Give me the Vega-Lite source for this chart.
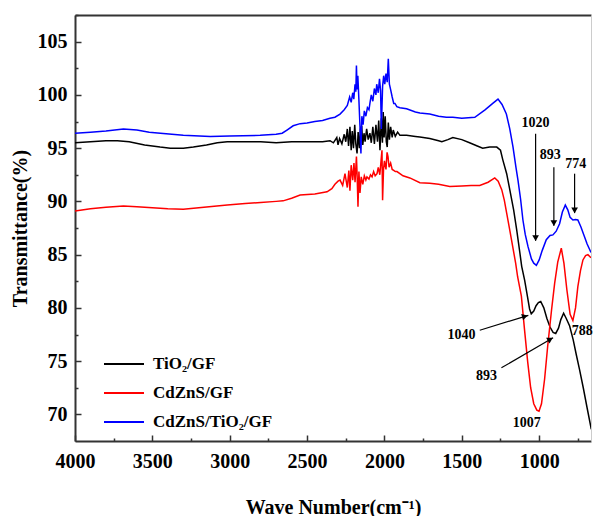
{
  "$schema": "https://vega.github.io/schema/vega-lite/v6.json",
  "width": 516,
  "height": 426,
  "autosize": "none",
  "padding": {"left": 75, "top": 15, "right": 2, "bottom": 75},
  "background": "white",
  "config": {
    "view": {"stroke": null},
    "axis": {
      "grid": false,
      "labelFont": "Liberation Serif",
      "labelFontWeight": "bold",
      "labelFontSize": 20,
      "labelColor": "#000",
      "titleFont": "Liberation Serif",
      "titleFontWeight": "bold",
      "titleFontSize": 20,
      "titleColor": "#000",
      "domainColor": "#333",
      "domainWidth": 2,
      "tickColor": "#333",
      "tickWidth": 1.5
    },
    "legend": {
      "labelFont": "Liberation Serif",
      "labelFontWeight": "bold",
      "labelFontSize": 17,
      "labelColor": "#000"
    }
  },
  "datasets": {
    "spectra": [
      {"s":"TiO₂/GF","x":4000,"y":95.5},{"s":"TiO₂/GF","x":3900,"y":95.6},{"s":"TiO₂/GF","x":3800,"y":95.7},{"s":"TiO₂/GF","x":3726,"y":95.7},{"s":"TiO₂/GF","x":3650,"y":95.6},{"s":"TiO₂/GF","x":3550,"y":95.3},{"s":"TiO₂/GF","x":3450,"y":95.1},{"s":"TiO₂/GF","x":3384,"y":95.0},{"s":"TiO₂/GF","x":3300,"y":95.0},{"s":"TiO₂/GF","x":3235,"y":95.1},{"s":"TiO₂/GF","x":3150,"y":95.3},{"s":"TiO₂/GF","x":3080,"y":95.5},{"s":"TiO₂/GF","x":3016,"y":95.6},{"s":"TiO₂/GF","x":2900,"y":95.6},{"s":"TiO₂/GF","x":2800,"y":95.6},{"s":"TiO₂/GF","x":2700,"y":95.5},{"s":"TiO₂/GF","x":2600,"y":95.6},{"s":"TiO₂/GF","x":2500,"y":95.6},{"s":"TiO₂/GF","x":2450,"y":95.6},{"s":"TiO₂/GF","x":2400,"y":95.6},{"s":"TiO₂/GF","x":2352,"y":95.7},{"s":"TiO₂/GF","x":2330,"y":95.5},{"s":"TiO₂/GF","x":2308,"y":96.0},{"s":"TiO₂/GF","x":2300,"y":95.3},{"s":"TiO₂/GF","x":2290,"y":95.9},{"s":"TiO₂/GF","x":2275,"y":95.4},{"s":"TiO₂/GF","x":2260,"y":96.3},{"s":"TiO₂/GF","x":2250,"y":95.6},{"s":"TiO₂/GF","x":2240,"y":96.8},{"s":"TiO₂/GF","x":2232,"y":95.2},{"s":"TiO₂/GF","x":2223,"y":97.0},{"s":"TiO₂/GF","x":2215,"y":94.8},{"s":"TiO₂/GF","x":2208,"y":96.6},{"s":"TiO₂/GF","x":2200,"y":95.0},{"s":"TiO₂/GF","x":2192,"y":97.2},{"s":"TiO₂/GF","x":2185,"y":95.4},{"s":"TiO₂/GF","x":2177,"y":94.5},{"s":"TiO₂/GF","x":2170,"y":96.5},{"s":"TiO₂/GF","x":2162,"y":95.0},{"s":"TiO₂/GF","x":2155,"y":96.8},{"s":"TiO₂/GF","x":2147,"y":97.1},{"s":"TiO₂/GF","x":2140,"y":95.3},{"s":"TiO₂/GF","x":2132,"y":96.4},{"s":"TiO₂/GF","x":2125,"y":95.6},{"s":"TiO₂/GF","x":2115,"y":96.8},{"s":"TiO₂/GF","x":2105,"y":95.8},{"s":"TiO₂/GF","x":2094,"y":96.4},{"s":"TiO₂/GF","x":2085,"y":95.5},{"s":"TiO₂/GF","x":2075,"y":97.0},{"s":"TiO₂/GF","x":2065,"y":95.4},{"s":"TiO₂/GF","x":2055,"y":97.2},{"s":"TiO₂/GF","x":2045,"y":95.6},{"s":"TiO₂/GF","x":2037,"y":97.6},{"s":"TiO₂/GF","x":2029,"y":94.8},{"s":"TiO₂/GF","x":2020,"y":97.8},{"s":"TiO₂/GF","x":2013,"y":95.5},{"s":"TiO₂/GF","x":2008,"y":98.4},{"s":"TiO₂/GF","x":2002,"y":96.0},{"s":"TiO₂/GF","x":1995,"y":98.0},{"s":"TiO₂/GF","x":1988,"y":95.6},{"s":"TiO₂/GF","x":1982,"y":95.1},{"s":"TiO₂/GF","x":1975,"y":97.4},{"s":"TiO₂/GF","x":1968,"y":95.8},{"s":"TiO₂/GF","x":1960,"y":97.0},{"s":"TiO₂/GF","x":1950,"y":96.0},{"s":"TiO₂/GF","x":1943,"y":96.7},{"s":"TiO₂/GF","x":1930,"y":96.1},{"s":"TiO₂/GF","x":1915,"y":96.5},{"s":"TiO₂/GF","x":1900,"y":96.2},{"s":"TiO₂/GF","x":1857,"y":96.2},{"s":"TiO₂/GF","x":1800,"y":96.1},{"s":"TiO₂/GF","x":1771,"y":96.05},{"s":"TiO₂/GF","x":1707,"y":95.9},{"s":"TiO₂/GF","x":1650,"y":95.7},{"s":"TiO₂/GF","x":1629,"y":95.6},{"s":"TiO₂/GF","x":1590,"y":95.8},{"s":"TiO₂/GF","x":1558,"y":96.0},{"s":"TiO₂/GF","x":1500,"y":95.8},{"s":"TiO₂/GF","x":1450,"y":95.5},{"s":"TiO₂/GF","x":1400,"y":95.2},{"s":"TiO₂/GF","x":1365,"y":95.0},{"s":"TiO₂/GF","x":1320,"y":95.1},{"s":"TiO₂/GF","x":1274,"y":95.1},{"s":"TiO₂/GF","x":1250,"y":94.8},{"s":"TiO₂/GF","x":1235,"y":93.9},{"s":"TiO₂/GF","x":1210,"y":92.6},{"s":"TiO₂/GF","x":1190,"y":91.1},{"s":"TiO₂/GF","x":1165,"y":89.2},{"s":"TiO₂/GF","x":1145,"y":87.3},{"s":"TiO₂/GF","x":1125,"y":85.2},{"s":"TiO₂/GF","x":1113,"y":83.9},{"s":"TiO₂/GF","x":1094,"y":82.6},{"s":"TiO₂/GF","x":1075,"y":81.0},{"s":"TiO₂/GF","x":1062,"y":79.9},{"s":"TiO₂/GF","x":1051,"y":79.45},{"s":"TiO₂/GF","x":1035,"y":79.7},{"s":"TiO₂/GF","x":1020,"y":80.2},{"s":"TiO₂/GF","x":1005,"y":80.5},{"s":"TiO₂/GF","x":990,"y":80.6},{"s":"TiO₂/GF","x":970,"y":80.0},{"s":"TiO₂/GF","x":950,"y":79.0},{"s":"TiO₂/GF","x":930,"y":78.2},{"s":"TiO₂/GF","x":910,"y":77.7},{"s":"TiO₂/GF","x":893,"y":77.6},{"s":"TiO₂/GF","x":875,"y":78.1},{"s":"TiO₂/GF","x":860,"y":78.9},{"s":"TiO₂/GF","x":842,"y":79.5},{"s":"TiO₂/GF","x":825,"y":79.0},{"s":"TiO₂/GF","x":803,"y":78.3},{"s":"TiO₂/GF","x":780,"y":77.0},{"s":"TiO₂/GF","x":760,"y":75.6},{"s":"TiO₂/GF","x":739,"y":74.2},{"s":"TiO₂/GF","x":715,"y":72.5},{"s":"TiO₂/GF","x":690,"y":70.6},{"s":"TiO₂/GF","x":663,"y":68.6},

      {"s":"CdZnS/GF","x":4000,"y":89.1},{"s":"CdZnS/GF","x":3900,"y":89.3},{"s":"CdZnS/GF","x":3800,"y":89.45},{"s":"CdZnS/GF","x":3687,"y":89.56},{"s":"CdZnS/GF","x":3600,"y":89.5},{"s":"CdZnS/GF","x":3500,"y":89.4},{"s":"CdZnS/GF","x":3400,"y":89.3},{"s":"CdZnS/GF","x":3300,"y":89.25},{"s":"CdZnS/GF","x":3200,"y":89.4},{"s":"CdZnS/GF","x":3100,"y":89.55},{"s":"CdZnS/GF","x":3016,"y":89.65},{"s":"CdZnS/GF","x":2900,"y":89.8},{"s":"CdZnS/GF","x":2800,"y":89.9},{"s":"CdZnS/GF","x":2700,"y":90.0},{"s":"CdZnS/GF","x":2655,"y":90.05},{"s":"CdZnS/GF","x":2600,"y":90.3},{"s":"CdZnS/GF","x":2545,"y":90.6},{"s":"CdZnS/GF","x":2450,"y":90.7},{"s":"CdZnS/GF","x":2371,"y":90.9},{"s":"CdZnS/GF","x":2340,"y":91.2},{"s":"CdZnS/GF","x":2320,"y":91.6},{"s":"CdZnS/GF","x":2300,"y":91.9},{"s":"CdZnS/GF","x":2287,"y":92.0},{"s":"CdZnS/GF","x":2270,"y":91.5},{"s":"CdZnS/GF","x":2255,"y":92.6},{"s":"CdZnS/GF","x":2240,"y":91.3},{"s":"CdZnS/GF","x":2230,"y":92.9},{"s":"CdZnS/GF","x":2223,"y":91.0},{"s":"CdZnS/GF","x":2215,"y":93.4},{"s":"CdZnS/GF","x":2205,"y":92.0},{"s":"CdZnS/GF","x":2197,"y":93.6},{"s":"CdZnS/GF","x":2190,"y":91.8},{"s":"CdZnS/GF","x":2181,"y":94.2},{"s":"CdZnS/GF","x":2176,"y":92.2},{"s":"CdZnS/GF","x":2171,"y":89.5},{"s":"CdZnS/GF","x":2165,"y":92.8},{"s":"CdZnS/GF","x":2158,"y":90.8},{"s":"CdZnS/GF","x":2150,"y":92.3},{"s":"CdZnS/GF","x":2140,"y":91.6},{"s":"CdZnS/GF","x":2130,"y":92.4},{"s":"CdZnS/GF","x":2120,"y":92.0},{"s":"CdZnS/GF","x":2113,"y":92.3},{"s":"CdZnS/GF","x":2100,"y":92.1},{"s":"CdZnS/GF","x":2090,"y":92.5},{"s":"CdZnS/GF","x":2080,"y":92.3},{"s":"CdZnS/GF","x":2070,"y":92.8},{"s":"CdZnS/GF","x":2060,"y":92.4},{"s":"CdZnS/GF","x":2048,"y":92.6},{"s":"CdZnS/GF","x":2040,"y":93.2},{"s":"CdZnS/GF","x":2030,"y":92.5},{"s":"CdZnS/GF","x":2022,"y":93.8},{"s":"CdZnS/GF","x":2016,"y":94.8},{"s":"CdZnS/GF","x":2012,"y":90.1},{"s":"CdZnS/GF","x":2006,"y":93.0},{"s":"CdZnS/GF","x":2000,"y":93.8},{"s":"CdZnS/GF","x":1990,"y":93.0},{"s":"CdZnS/GF","x":1983,"y":94.6},{"s":"CdZnS/GF","x":1977,"y":94.2},{"s":"CdZnS/GF","x":1970,"y":93.2},{"s":"CdZnS/GF","x":1960,"y":93.6},{"s":"CdZnS/GF","x":1950,"y":93.0},{"s":"CdZnS/GF","x":1940,"y":92.9},{"s":"CdZnS/GF","x":1930,"y":92.8},{"s":"CdZnS/GF","x":1919,"y":92.8},{"s":"CdZnS/GF","x":1880,"y":92.4},{"s":"CdZnS/GF","x":1836,"y":92.2},{"s":"CdZnS/GF","x":1771,"y":91.75},{"s":"CdZnS/GF","x":1707,"y":91.7},{"s":"CdZnS/GF","x":1650,"y":91.6},{"s":"CdZnS/GF","x":1578,"y":91.4},{"s":"CdZnS/GF","x":1500,"y":91.45},{"s":"CdZnS/GF","x":1440,"y":91.5},{"s":"CdZnS/GF","x":1384,"y":91.5},{"s":"CdZnS/GF","x":1330,"y":91.8},{"s":"CdZnS/GF","x":1287,"y":92.2},{"s":"CdZnS/GF","x":1265,"y":91.9},{"s":"CdZnS/GF","x":1242,"y":91.1},{"s":"CdZnS/GF","x":1225,"y":90.1},{"s":"CdZnS/GF","x":1210,"y":88.9},{"s":"CdZnS/GF","x":1190,"y":87.3},{"s":"CdZnS/GF","x":1171,"y":85.75},{"s":"CdZnS/GF","x":1152,"y":84.2},{"s":"CdZnS/GF","x":1139,"y":82.9},{"s":"CdZnS/GF","x":1115,"y":81.1},{"s":"CdZnS/GF","x":1095,"y":78.0},{"s":"CdZnS/GF","x":1074,"y":74.9},{"s":"CdZnS/GF","x":1055,"y":72.5},{"s":"CdZnS/GF","x":1035,"y":71.0},{"s":"CdZnS/GF","x":1015,"y":70.4},{"s":"CdZnS/GF","x":1001,"y":70.3},{"s":"CdZnS/GF","x":985,"y":71.0},{"s":"CdZnS/GF","x":965,"y":73.3},{"s":"CdZnS/GF","x":945,"y":76.4},{"s":"CdZnS/GF","x":920,"y":79.8},{"s":"CdZnS/GF","x":900,"y":82.3},{"s":"CdZnS/GF","x":880,"y":84.3},{"s":"CdZnS/GF","x":857,"y":85.6},{"s":"CdZnS/GF","x":840,"y":84.2},{"s":"CdZnS/GF","x":821,"y":81.7},{"s":"CdZnS/GF","x":800,"y":79.4},{"s":"CdZnS/GF","x":782,"y":78.8},{"s":"CdZnS/GF","x":765,"y":80.0},{"s":"CdZnS/GF","x":750,"y":82.0},{"s":"CdZnS/GF","x":733,"y":83.5},{"s":"CdZnS/GF","x":717,"y":84.5},{"s":"CdZnS/GF","x":700,"y":84.9},{"s":"CdZnS/GF","x":685,"y":85.0},{"s":"CdZnS/GF","x":665,"y":84.7},

      {"s":"CdZnS/TiO₂/GF","x":4000,"y":96.4},{"s":"CdZnS/TiO₂/GF","x":3900,"y":96.5},{"s":"CdZnS/TiO₂/GF","x":3800,"y":96.6},{"s":"CdZnS/TiO₂/GF","x":3687,"y":96.8},{"s":"CdZnS/TiO₂/GF","x":3600,"y":96.7},{"s":"CdZnS/TiO₂/GF","x":3520,"y":96.5},{"s":"CdZnS/TiO₂/GF","x":3448,"y":96.4},{"s":"CdZnS/TiO₂/GF","x":3300,"y":96.2},{"s":"CdZnS/TiO₂/GF","x":3126,"y":96.1},{"s":"CdZnS/TiO₂/GF","x":3000,"y":96.15},{"s":"CdZnS/TiO₂/GF","x":2803,"y":96.2},{"s":"CdZnS/TiO₂/GF","x":2700,"y":96.3},{"s":"CdZnS/TiO₂/GF","x":2661,"y":96.4},{"s":"CdZnS/TiO₂/GF","x":2630,"y":96.7},{"s":"CdZnS/TiO₂/GF","x":2590,"y":97.1},{"s":"CdZnS/TiO₂/GF","x":2545,"y":97.3},{"s":"CdZnS/TiO₂/GF","x":2500,"y":97.36},{"s":"CdZnS/TiO₂/GF","x":2450,"y":97.5},{"s":"CdZnS/TiO₂/GF","x":2400,"y":97.6},{"s":"CdZnS/TiO₂/GF","x":2352,"y":97.8},{"s":"CdZnS/TiO₂/GF","x":2320,"y":97.9},{"s":"CdZnS/TiO₂/GF","x":2287,"y":98.2},{"s":"CdZnS/TiO₂/GF","x":2260,"y":98.6},{"s":"CdZnS/TiO₂/GF","x":2240,"y":99.0},{"s":"CdZnS/TiO₂/GF","x":2225,"y":99.8},{"s":"CdZnS/TiO₂/GF","x":2215,"y":99.3},{"s":"CdZnS/TiO₂/GF","x":2205,"y":100.2},{"s":"CdZnS/TiO₂/GF","x":2198,"y":99.6},{"s":"CdZnS/TiO₂/GF","x":2190,"y":101.0},{"s":"CdZnS/TiO₂/GF","x":2185,"y":100.3},{"s":"CdZnS/TiO₂/GF","x":2181,"y":102.75},{"s":"CdZnS/TiO₂/GF","x":2177,"y":100.5},{"s":"CdZnS/TiO₂/GF","x":2172,"y":101.8},{"s":"CdZnS/TiO₂/GF","x":2165,"y":99.5},{"s":"CdZnS/TiO₂/GF","x":2158,"y":97.0},{"s":"CdZnS/TiO₂/GF","x":2152,"y":94.5},{"s":"CdZnS/TiO₂/GF","x":2146,"y":98.0},{"s":"CdZnS/TiO₂/GF","x":2138,"y":97.2},{"s":"CdZnS/TiO₂/GF","x":2130,"y":98.5},{"s":"CdZnS/TiO₂/GF","x":2120,"y":98.0},{"s":"CdZnS/TiO₂/GF","x":2110,"y":98.8},{"s":"CdZnS/TiO₂/GF","x":2100,"y":98.6},{"s":"CdZnS/TiO₂/GF","x":2094,"y":99.2},{"s":"CdZnS/TiO₂/GF","x":2085,"y":100.0},{"s":"CdZnS/TiO₂/GF","x":2075,"y":99.4},{"s":"CdZnS/TiO₂/GF","x":2065,"y":100.6},{"s":"CdZnS/TiO₂/GF","x":2055,"y":100.0},{"s":"CdZnS/TiO₂/GF","x":2050,"y":101.0},{"s":"CdZnS/TiO₂/GF","x":2040,"y":100.2},{"s":"CdZnS/TiO₂/GF","x":2032,"y":101.5},{"s":"CdZnS/TiO₂/GF","x":2025,"y":100.4},{"s":"CdZnS/TiO₂/GF","x":2020,"y":96.8},{"s":"CdZnS/TiO₂/GF","x":2012,"y":100.8},{"s":"CdZnS/TiO₂/GF","x":2005,"y":101.8},{"s":"CdZnS/TiO₂/GF","x":1998,"y":101.0},{"s":"CdZnS/TiO₂/GF","x":1990,"y":102.0},{"s":"CdZnS/TiO₂/GF","x":1982,"y":101.2},{"s":"CdZnS/TiO₂/GF","x":1975,"y":103.4},{"s":"CdZnS/TiO₂/GF","x":1968,"y":101.0},{"s":"CdZnS/TiO₂/GF","x":1960,"y":100.5},{"s":"CdZnS/TiO₂/GF","x":1950,"y":99.8},{"s":"CdZnS/TiO₂/GF","x":1940,"y":99.2},{"s":"CdZnS/TiO₂/GF","x":1932,"y":99.2},{"s":"CdZnS/TiO₂/GF","x":1920,"y":98.9},{"s":"CdZnS/TiO₂/GF","x":1900,"y":98.8},{"s":"CdZnS/TiO₂/GF","x":1857,"y":98.7},{"s":"CdZnS/TiO₂/GF","x":1800,"y":98.4},{"s":"CdZnS/TiO₂/GF","x":1771,"y":98.3},{"s":"CdZnS/TiO₂/GF","x":1707,"y":98.2},{"s":"CdZnS/TiO₂/GF","x":1650,"y":98.0},{"s":"CdZnS/TiO₂/GF","x":1600,"y":97.9},{"s":"CdZnS/TiO₂/GF","x":1558,"y":97.9},{"s":"CdZnS/TiO₂/GF","x":1500,"y":97.8},{"s":"CdZnS/TiO₂/GF","x":1416,"y":97.9},{"s":"CdZnS/TiO₂/GF","x":1350,"y":98.6},{"s":"CdZnS/TiO₂/GF","x":1300,"y":99.2},{"s":"CdZnS/TiO₂/GF","x":1266,"y":99.6},{"s":"CdZnS/TiO₂/GF","x":1240,"y":99.1},{"s":"CdZnS/TiO₂/GF","x":1212,"y":98.2},{"s":"CdZnS/TiO₂/GF","x":1190,"y":96.8},{"s":"CdZnS/TiO₂/GF","x":1169,"y":95.1},{"s":"CdZnS/TiO₂/GF","x":1150,"y":93.2},{"s":"CdZnS/TiO₂/GF","x":1137,"y":92.0},{"s":"CdZnS/TiO₂/GF","x":1120,"y":90.2},{"s":"CdZnS/TiO₂/GF","x":1105,"y":88.25},{"s":"CdZnS/TiO₂/GF","x":1090,"y":86.9},{"s":"CdZnS/TiO₂/GF","x":1072,"y":85.75},{"s":"CdZnS/TiO₂/GF","x":1050,"y":84.6},{"s":"CdZnS/TiO₂/GF","x":1035,"y":84.2},{"s":"CdZnS/TiO₂/GF","x":1018,"y":84.0},{"s":"CdZnS/TiO₂/GF","x":1000,"y":84.5},{"s":"CdZnS/TiO₂/GF","x":980,"y":85.4},{"s":"CdZnS/TiO₂/GF","x":954,"y":86.4},{"s":"CdZnS/TiO₂/GF","x":930,"y":86.8},{"s":"CdZnS/TiO₂/GF","x":911,"y":86.85},{"s":"CdZnS/TiO₂/GF","x":890,"y":87.2},{"s":"CdZnS/TiO₂/GF","x":868,"y":87.9},{"s":"CdZnS/TiO₂/GF","x":850,"y":89.0},{"s":"CdZnS/TiO₂/GF","x":831,"y":89.65},{"s":"CdZnS/TiO₂/GF","x":815,"y":89.2},{"s":"CdZnS/TiO₂/GF","x":800,"y":88.5},{"s":"CdZnS/TiO₂/GF","x":782,"y":88.25},{"s":"CdZnS/TiO₂/GF","x":765,"y":88.3},{"s":"CdZnS/TiO₂/GF","x":750,"y":88.25},{"s":"CdZnS/TiO₂/GF","x":730,"y":87.6},{"s":"CdZnS/TiO₂/GF","x":710,"y":86.8},{"s":"CdZnS/TiO₂/GF","x":690,"y":86.0},{"s":"CdZnS/TiO₂/GF","x":665,"y":85.2}
    ],
    "labels": [
      {"t":"1020","x":1023,"y":97.35},
      {"t":"893","x":929,"y":94.4},
      {"t":"774","x":764,"y":93.55},
      {"t":"1040","x":1502,"y":77.5},
      {"t":"893","x":1341,"y":73.65},
      {"t":"788","x":722,"y":77.8},
      {"t":"1007","x":1081,"y":69.2}
    ],
    "arrows": [
      {"x":1023,"y":96.36,"x2":1023,"y2":86.3},
      {"x":905,"y":93.2,"x2":905,"y2":87.7},
      {"x":771,"y":92.6,"x2":771,"y2":88.9},
      {"x":1384,"y":77.9,"x2":1070,"y2":79.3},
      {"x":1244,"y":74.37,"x2":910,"y2":77.2}
    ],
    "heads": [
      {"x":1023,"y":86.55,"sh":"triangle-down","ang":0},
      {"x":905,"y":87.95,"sh":"triangle-down","ang":0},
      {"x":771,"y":89.15,"sh":"triangle-down","ang":0},
      {"x":1092,"y":79.21,"sh":"triangle-right","ang":343},
      {"x":928,"y":77.06,"sh":"triangle-right","ang":329}
    ]
  },
  "resolve": {"axis": {"x": "independent", "y": "independent"}},
  "layer": [
    {
      "data": {"name": "spectra"},
      "mark": {"type": "line", "strokeWidth": 1.5, "clip": true},
      "encoding": {
        "x": {"field": "x", "type": "quantitative",
          "scale": {"domain": [665, 4000], "reverse": true, "nice": false, "zero": false},
          "axis": {"orient": "bottom", "values": [4000, 3500, 3000, 2500, 2000, 1500, 1000], "format": "d", "tickSize": -6, "labelPadding": 16, "title": "Wave Number(cm⁻¹)", "titlePadding": 26, "labelFlush": false, "labelOverlap": false}},
        "y": {"field": "y", "type": "quantitative",
          "scale": {"domain": [67.5, 107.5], "nice": false, "zero": false},
          "axis": {"orient": "left", "values": [70, 75, 80, 85, 90, 95, 100, 105], "tickSize": -6, "labelPadding": 14, "title": "Transmittance(%)", "titlePadding": 7, "labelFlush": false, "labelOverlap": false}},
        "color": {"field": "s", "type": "nominal",
          "scale": {"domain": ["TiO₂/GF", "CdZnS/GF", "CdZnS/TiO₂/GF"], "range": ["#000000", "#ff0000", "#0000ff"]},
          "legend": {"orient": "none", "legendX": 28, "legendY": 328, "title": null, "symbolType": "stroke", "symbolSize": 1600, "symbolStrokeWidth": 2, "rowPadding": -18, "labelOffset": 8, "padding": 0}}
      }
    },
    {
      "data": {"name": "arrows"},
      "mark": {"type": "rule", "color": "#000", "strokeWidth": 1.2},
      "encoding": {
        "x": {"field": "x", "type": "quantitative",
          "axis": {"orient": "bottom", "values": [3750, 3250, 2750, 2250, 1750, 1250, 750], "tickSize": -3, "labels": false, "domain": false, "title": null}},
        "y": {"field": "y", "type": "quantitative",
          "axis": {"orient": "left", "values": [72.5, 77.5, 82.5, 87.5, 92.5, 97.5, 102.5, 107.5], "tickSize": -3, "labels": false, "domain": false, "title": null}},
        "x2": {"field": "x2"},
        "y2": {"field": "y2"}
      }
    },
    {
      "data": {"name": "heads"},
      "mark": {"type": "point", "filled": true, "color": "#000", "size": 45, "opacity": 1},
      "encoding": {
        "x": {"field": "x", "type": "quantitative",
          "axis": {"orient": "top", "ticks": false, "labels": false, "domain": true, "title": null}},
        "y": {"field": "y", "type": "quantitative",
          "axis": {"orient": "right", "ticks": false, "labels": false, "domain": true, "domainColor": "#ccc", "domainWidth": 1, "title": null}},
        "shape": {"field": "sh", "type": "nominal", "scale": null, "legend": null},
        "angle": {"field": "ang", "type": "quantitative", "scale": null}
      }
    },
    {
      "data": {"name": "labels"},
      "mark": {"type": "text", "font": "Liberation Serif", "fontWeight": "bold", "fontSize": 14, "color": "#000", "baseline": "middle", "align": "center"},
      "encoding": {
        "x": {"field": "x", "type": "quantitative", "axis": null},
        "y": {"field": "y", "type": "quantitative", "axis": null},
        "text": {"field": "t", "type": "nominal"}
      }
    }
  ]
}
